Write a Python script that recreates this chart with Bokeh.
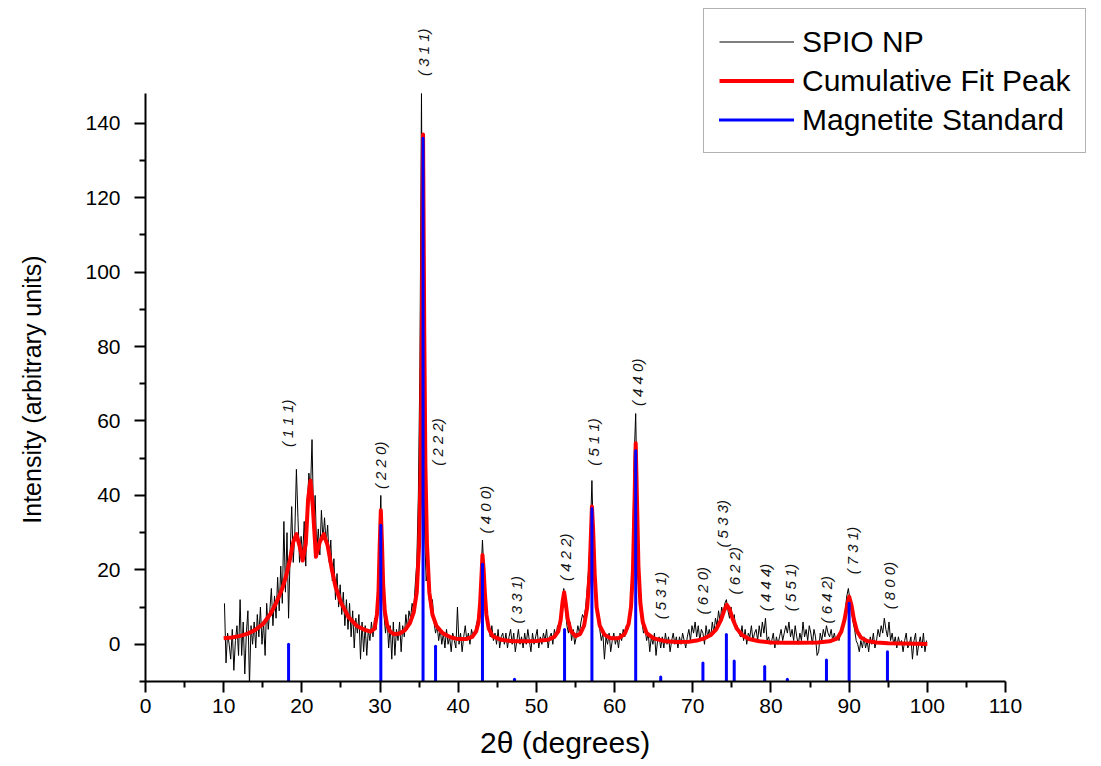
import numpy as np
from bokeh.plotting import figure
from bokeh.models import (ColumnDataSource, FixedTicker, Legend, LegendItem,
                          LabelSet, Range1d)
from bokeh.core.properties import value
from bokeh.embed import file_html
from bokeh.resources import INLINE

# ---------------- data ----------------
# SPIO NP measured pattern: sampled every 0.2 deg, first point at 10.1 deg
spio_start = 10.1
spio_step = 0.2
spio_intensity = [
    11, -5, 3, 0, -4, 4, -7, 1, 5, -3,
    12, -3, 6, -8, 3, 9, -11, 5, 0, 6,
    -1, 8, 2, 10, 0, 6, -3, 11, 4, 9,
    15, 5, 13, 7, 18, 9, 21, 11, 33, 14,
    30, 7, 24, 37, 22, 30, 47, 34, 22, 29,
    24, 33, 21, 38, 46, 41, 55, 33, 40, 25,
    31, 24, 36, 28, 34, 27, 32, 22, 28, 17,
    23, 12, 19, 10, 16, 8, 14, 5, 12, 4,
    11, 2, 9, -1, 7, 3, 8, -4, 6, -2,
    5, -3, 4, 1, 6, 2, 7, 4, 11, 27,
    40, 18, 8, 3, 7, -1, 5, -4, 6, -3,
    4, 1, 6, -2, 5, 2, 8, 4, 9, 7,
    11, 9, 16, 22, 40, 75, 148, 70, 30, 17,
    20, 12, 9, 12, 6, 3, 5, 1, 4, 0,
    3, -1, 4, 0, 2, -2, 3, 1, -1, 10,
    0, 3, -2, 2, 5, 1, 3, 0, 4, 2,
    3, 5, 7, 10, 18, 28, 19, 11, 6, 4,
    2, 5, 1, 3, 0, 4, -1, 2, 3, 0,
    3, -1, 2, 4, 0, 3, -2, 1, 4, 0,
    2, -1, 3, 0, 4, 1, -2, 3, 0, 2,
    4, -1, 2, 0, 3, 1, 4, -1, 2, 3,
    0, 4, 2, 5, 4, 8, 11, 15, 10, 5,
    3, 6, 1, 4, 0, 2, 5, 3, 6, 8,
    7, 10, 15, 21, 30, 44, 27, 16, 9, 6,
    4, 1, 3, -4, 2, 0, 3, -2, 1, 3,
    0, 2, -1, 3, 1, 4, 2, 5, 4, 8,
    12, 22, 50, 62, 38, 18, 9, 6, 3, 4,
    1, 3, -2, 2, 0, 3, -3, 1, 2, -1,
    2, -1, 3, 0, 2, -2, 1, 3, 0, 2,
    -1, 2, 0, 3, 1, -1, 2, 4, 1, 5,
    3, 6, 2, 5, 1, 4, 3, 0, 5, 2,
    4, 2, 6, 3, 7, 5, 9, 6, 10, 8,
    11, 12, 9, 7, 10, 6, 8, 4, 5, 3,
    2, 5, 1, 4, 0, 3, 2, 5, 1, 3,
    4, 1, 5, 2, 6, 3, 7, 1, 2, 0,
    1, 3, -1, 2, 0, 2, 4, 1, 3, 5,
    3, 6, 2, 4, 1, 5, 2, 0, 3, 1,
    6, 2, 4, 1, 5, 3, 0, 4, 2, -3,
    -2, 3, 1, 4, 2, 5, 3, 2, 4, 1,
    3, 1, 2, 1, 3, 4, 6, 9, 13, 15,
    12, 9, 6, 4, 1, 0, -2, 1, -1, 2,
    -1, 1, -2, 2, 0, 3, -1, 1, 4, 2,
    5, 3, 7, 4, 2, 6, 1, 3, 0, 2,
    -1, 2, 0, 1, -2, 1, 3, -1, 0, 2,
    -4, 1, 3, -3, 0, 2, -1, 3, -2, 1,
]

# Cumulative fit peak
fit_two_theta = [
    10.0, 11.0, 12.0, 13.0, 14.0, 15.0, 16.0, 16.8, 17.5, 18.0, 18.5, 18.9,
    19.3, 19.7, 20.1, 20.5, 20.8, 21.1, 21.4, 21.8, 22.3, 22.8, 23.3, 23.8,
    24.3, 25.0, 26.0, 27.0, 28.0, 28.8, 29.3, 29.6, 29.8, 29.95, 30.1, 30.25,
    30.4, 30.6, 30.9, 31.3, 31.8, 32.5, 33.2, 33.8, 34.3, 34.7, 35.0, 35.2,
    35.35, 35.5, 35.65, 35.8, 36.0, 36.3, 36.7, 37.2, 38.0, 39.0, 40.0, 41.0,
    41.8, 42.3, 42.6, 42.8, 43.0, 43.1, 43.25, 43.4, 43.6, 43.9, 44.4, 45.5,
    47.0, 48.5, 50.0, 51.5, 52.3, 52.8, 53.1, 53.35, 53.55, 53.75, 54.0, 54.4,
    55.0, 55.6, 56.1, 56.5, 56.8, 57.0, 57.1, 57.25, 57.45, 57.7, 58.1, 58.7,
    59.5, 60.5, 61.3, 61.8, 62.1, 62.35, 62.55, 62.7, 62.85, 63.05, 63.3, 63.6,
    64.1, 65.0, 66.5, 68.0, 69.5, 70.5, 71.5, 72.3, 73.0, 73.6, 74.0, 74.35,
    74.7, 75.1, 75.6, 76.3, 77.2, 78.5, 80.0, 82.0, 84.0, 86.0, 87.5, 88.5,
    89.0, 89.4, 89.7, 90.0, 90.3, 90.6, 91.0, 91.5, 92.3, 93.5, 95.0, 97.0,
    100.0,
]
fit_intensity = [
    1.6, 1.8, 2.2, 2.8, 3.8, 5.4, 8.2, 11.5, 15, 18.5, 23, 27.5,
    29.6, 26.5, 22.5, 27, 39, 44, 37, 23.5, 27.5, 29.6, 26.5, 20.5,
    15.5, 11.2, 7.2, 5.0, 3.9, 3.4, 4.2, 8, 14, 26, 36, 27,
    16, 9, 5.2, 3.4, 2.7, 2.9, 3.8, 5.6, 8.5, 14, 27, 48,
    85, 137, 85, 48, 27, 14, 8, 5, 3, 1.9, 1.4, 1.4,
    2, 3.5, 6, 11, 19.5, 24, 20, 14, 8, 4.2, 2.2, 1.2,
    0.8, 0.8, 0.9, 1.2, 2, 3.5, 6.5, 11.5, 14, 11, 6.8, 3.6,
    2.2, 2.8, 5, 10, 19, 31, 37, 31, 19, 10, 5, 2.6,
    1.6, 1.6, 2.8, 5.5, 10, 20, 38, 54, 40, 21, 11, 6,
    3, 1.6, 0.8, 0.6, 0.7, 1, 1.6, 2.5, 4, 6.5, 9, 10.6,
    9.5, 6.8, 4.3, 2.5, 1.4, 0.8, 0.5, 0.4, 0.4, 0.5, 0.8, 1.6,
    3.4, 6.5, 10, 12.8, 10.5, 6.8, 3.6, 1.8, 0.9, 0.5, 0.3, 0.2,
    0.1,
]

# Magnetite standard reflections
std_two_theta = [18.3, 30.1, 35.5, 37.1, 43.1, 47.2, 53.6, 57.1, 62.7, 65.9,
                 71.3, 74.3, 75.3, 79.2, 82.1, 87.1, 90.0, 94.9]
std_intensity = [0, 32, 136, -0.5, 21.5, -9.4, 4, 36.5, 52, -8.8,
                 -5, 2.6, -4.5, -6, -9.4, -4.2, 11, -2]

# Miller index annotations
hkl_labels = ["( 1 1 1)", "( 2 2 0)", "( 3 1 1)", "( 2 2 2)", "( 4 0 0)",
              "( 3 3 1)", "( 4 2 2)", "( 5 1 1)", "( 4 4 0)", "( 5 3 1)",
              "( 6 2 0)", "( 5 3 3)", "( 6 2 2)", "( 4 4 4)", "( 5 5 1)",
              "( 6 4 2)", "( 7 3 1)", "( 8 0 0)"]
hkl_two_theta = [18.2, 30.05, 35.5, 37.3, 43.5, 47.4, 53.7, 57.3, 62.9, 65.9,
                 71.2, 73.8, 75.4, 79.3, 82.5, 87.1, 90.4, 95.1]
hkl_label_y = [53, 41.7, 152.7, 48, 29.8, 5.6, 17, 48, 64, 6.7,
               8, 26, 13.4, 8.9, 8.9, 5.6, 18.8, 9.4]

x_ticks = list(range(0, 111, 10))
x_minor = list(range(5, 110, 10))
y_ticks = list(range(0, 141, 20))
y_minor = list(range(-10, 141, 20))

# ---------------- figure ----------------
FONT = "Liberation Sans"
X_MIN, X_MAX = 0, 110
Y_MIN, Y_MAX = -10, 148

# frame spans to the top and right page edges (so the legend is not clipped);
# axes are bounded to the data extents
FRAME_W, FRAME_H = 956, 681
AX_W, AX_H = 860, 588
x_end = X_MIN + (X_MAX - X_MIN) * FRAME_W / AX_W
y_end = Y_MIN + (Y_MAX - Y_MIN) * FRAME_H / AX_H

p = figure(frame_width=FRAME_W, frame_height=FRAME_H,
           x_range=Range1d(X_MIN, x_end), y_range=Range1d(Y_MIN, y_end),
           output_backend="svg", toolbar_location=None,
           min_border_left=145, min_border_right=0,
           min_border_top=0, min_border_bottom=85)
p.xgrid.visible = False
p.ygrid.visible = False
p.outline_line_color = None
p.background_fill_color = "white"
p.border_fill_color = "white"

spio_x = np.round(spio_start + spio_step * np.arange(len(spio_intensity)), 2)
r_black = p.line(spio_x, spio_intensity, line_color="black", line_width=1)
r_red = p.line(fit_two_theta, fit_intensity, line_color="#ff0000",
               line_width=4, line_join="round")
r_blue = p.segment(x0=std_two_theta, y0=[Y_MIN] * len(std_two_theta),
                   x1=std_two_theta, y1=std_intensity,
                   line_color="#0000ff", line_width=3, line_cap="round")

lab_src = ColumnDataSource(dict(x=hkl_two_theta, y=hkl_label_y, t=hkl_labels))
p.add_layout(LabelSet(x="x", y="y", text="t", source=lab_src, angle=np.pi / 2,
                      text_align="left", text_baseline="middle",
                      text_font=value(FONT), text_font_size="15px",
                      text_font_style="italic", text_color="#111111"))

for ax in (p.xaxis[0], p.yaxis[0]):
    ax.axis_line_width = 2
    ax.major_tick_line_width = 2
    ax.minor_tick_line_width = 2
    ax.major_tick_in = 0
    ax.minor_tick_in = 0
    ax.major_tick_out = 11
    ax.minor_tick_out = 6
    ax.major_label_text_font = FONT
    ax.major_label_text_font_size = "21px"
    ax.major_label_text_color = "black"
    ax.axis_label_text_font = FONT
    ax.axis_label_text_font_style = "normal"
    ax.axis_label_text_color = "black"

NBSP = "\u00a0"
p.xaxis.bounds = (X_MIN, X_MAX)
p.yaxis.bounds = (Y_MIN, Y_MAX)
p.xaxis.ticker = FixedTicker(ticks=x_ticks, minor_ticks=x_minor)
p.yaxis.ticker = FixedTicker(ticks=y_ticks, minor_ticks=y_minor)
# trailing no-break spaces shift the centred labels onto the bounded axes
p.xaxis.axis_label = "2θ (degrees)" + NBSP * 14
p.yaxis.axis_label = "Intensity (arbitrary units)" + NBSP * 14
p.xaxis.axis_label_text_font_size = "30px"
p.yaxis.axis_label_text_font_size = "25px"
p.xaxis.major_label_standoff = 6
p.xaxis.axis_label_standoff = 10
p.yaxis.major_label_standoff = 14
p.yaxis.axis_label_standoff = 36

legend = Legend(items=[LegendItem(label="SPIO NP", renderers=[r_black]),
                       LegendItem(label="Cumulative Fit Peak", renderers=[r_red]),
                       LegendItem(label="Magnetite Standard", renderers=[r_blue])],
                location=(558, 528))
legend.label_text_font = FONT
legend.label_text_font_size = "30px"
legend.label_text_color = "black"
legend.glyph_width = 75
legend.glyph_height = 35
legend.label_height = 35
legend.spacing = 4
legend.padding = 15
legend.margin = 0
legend.label_standoff = 8
legend.border_line_color = "#666666"
legend.border_line_width = 1.5
legend.background_fill_color = "white"
legend.background_fill_alpha = 1
p.add_layout(legend)

open("out.html", "w").write(file_html(p, INLINE))
